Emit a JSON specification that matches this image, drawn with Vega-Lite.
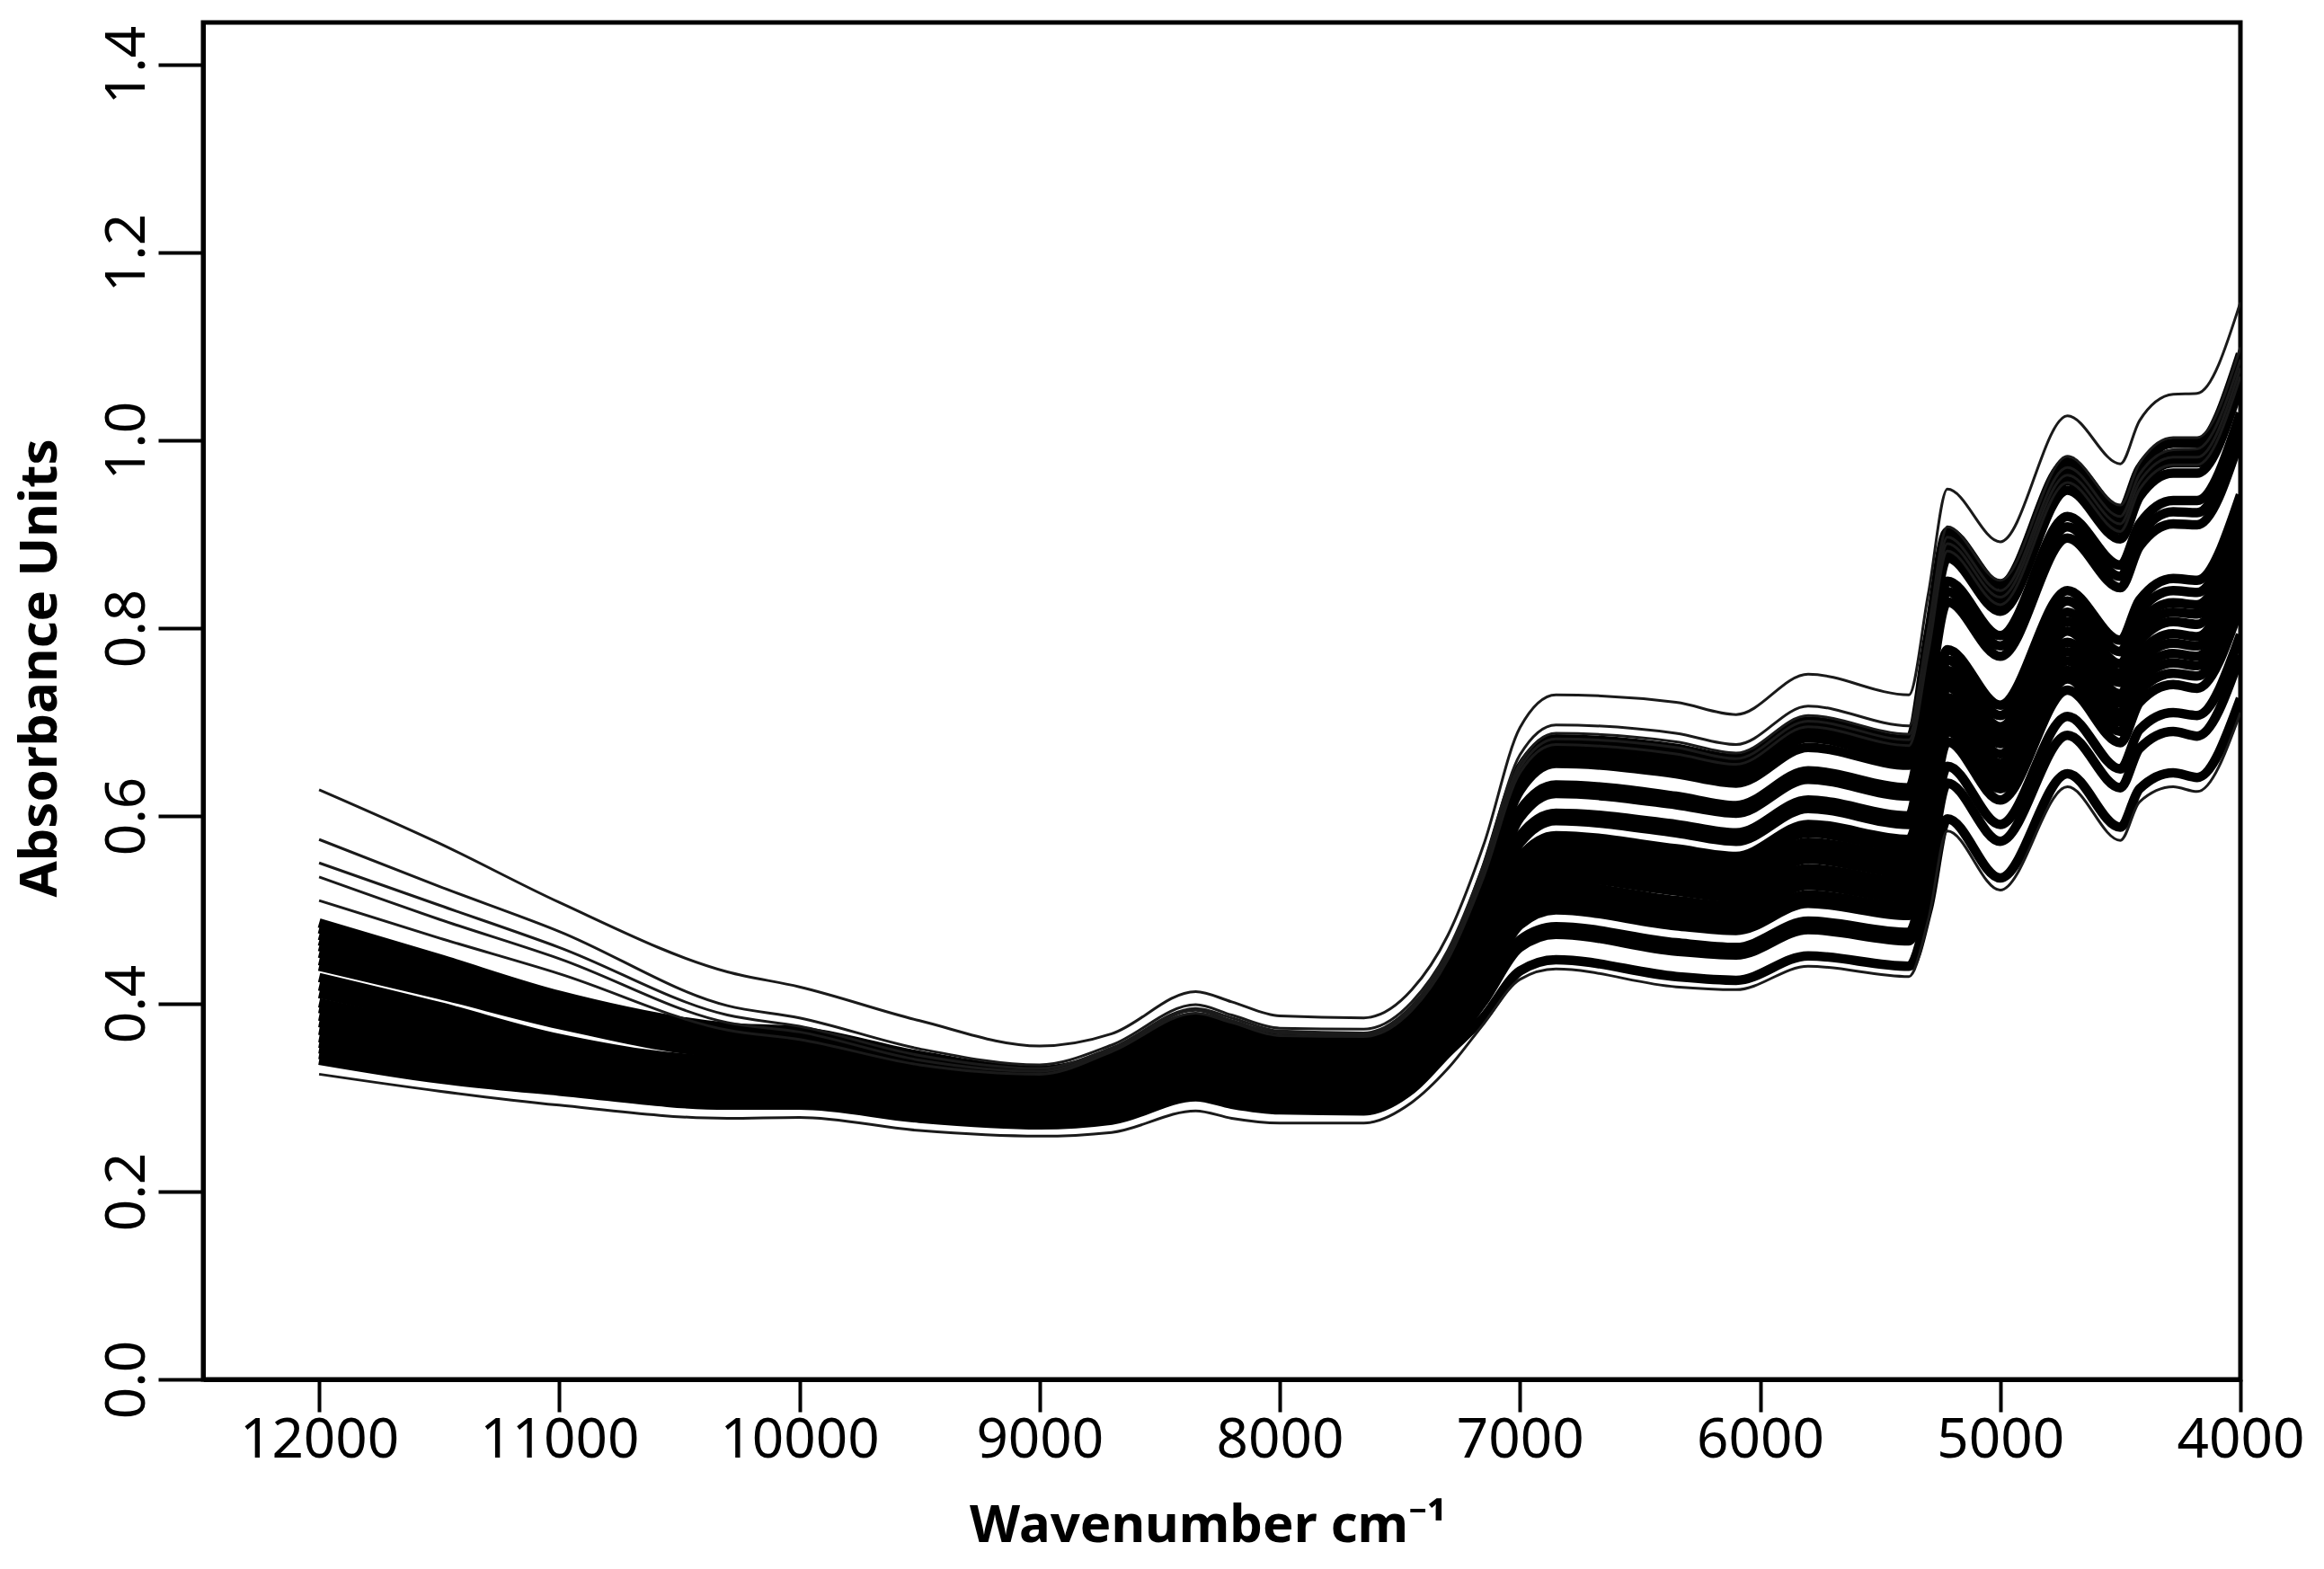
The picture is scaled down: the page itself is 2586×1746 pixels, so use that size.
{"$schema":"https://vega.github.io/schema/vega-lite/v6.json","width":2267,"height":1510,"autosize":{"type":"none"},"padding":{"left":226,"top":25,"right":93,"bottom":211},"background":"white","view":{"stroke":"black","strokeWidth":5,"fill":"white"},"config":{"axis":{"grid":false,"domainColor":"black","domainWidth":5,"tickColor":"black","tickWidth":4,"labelColor":"black","titleColor":"black","labelFont":"Noto Sans","titleFont":"Noto Sans","labelFontSize":62,"labelFontWeight":"normal","titleFontSize":58,"titleFontWeight":"bold"}},"data":{"values":[
{"w":12000,"T":0.628,"B":0.325,"F1":0.575,"F2":0.55,"F3":0.535,"F4":0.51,"s1":0.34,"s2":0.346,"s3":0.352,"s4":0.358,"s5":0.364,"s6":0.372,"s7":0.38,"s8":0.387,"s9":0.395,"s10":0.401,"s11":0.411,"s12":0.419,"s13":0.428,"s14":0.44,"s15":0.446,"s16":0.454,"s17":0.461,"s18":0.467,"s19":0.473,"s20":0.48,"s21":0.486},
{"w":11500,"T":0.571,"B":0.307,"F1":0.525,"F2":0.505,"F3":0.49,"F4":0.47,"s1":0.32,"s2":0.325,"s3":0.331,"s4":0.336,"s5":0.341,"s6":0.348,"s7":0.355,"s8":0.361,"s9":0.368,"s10":0.373,"s11":0.382,"s12":0.389,"s13":0.397,"s14":0.41,"s15":0.415,"s16":0.421,"s17":0.427,"s18":0.432,"s19":0.438,"s20":0.443,"s21":0.448},
{"w":11000,"T":0.508,"B":0.292,"F1":0.477,"F2":0.46,"F3":0.448,"F4":0.432,"s1":0.307,"s2":0.311,"s3":0.316,"s4":0.32,"s5":0.324,"s6":0.329,"s7":0.333,"s8":0.337,"s9":0.342,"s10":0.346,"s11":0.355,"s12":0.359,"s13":0.363,"s14":0.378,"s15":0.383,"s16":0.387,"s17":0.391,"s18":0.396,"s19":0.4,"s20":0.404,"s21":0.409},
{"w":10300,"T":0.434,"B":0.278,"F1":0.398,"F2":0.388,"F3":0.38,"F4":0.372,"s1":0.292,"s2":0.296,"s3":0.3,"s4":0.304,"s5":0.308,"s6":0.312,"s7":0.316,"s8":0.32,"s9":0.324,"s10":0.328,"s11":0.332,"s12":0.336,"s13":0.34,"s14":0.348,"s15":0.352,"s16":0.356,"s17":0.36,"s18":0.364,"s19":0.368,"s20":0.372,"s21":0.375},
{"w":10000,"T":0.418,"B":0.279,"F1":0.385,"F2":0.376,"F3":0.37,"F4":0.362,"s1":0.292,"s2":0.296,"s3":0.3,"s4":0.304,"s5":0.308,"s6":0.312,"s7":0.316,"s8":0.32,"s9":0.324,"s10":0.328,"s11":0.332,"s12":0.336,"s13":0.34,"s14":0.347,"s15":0.351,"s16":0.355,"s17":0.358,"s18":0.361,"s19":0.364,"s20":0.367,"s21":0.371},
{"w":9500,"T":0.382,"B":0.265,"F1":0.352,"F2":0.345,"F3":0.34,"F4":0.335,"s1":0.278,"s2":0.281,"s3":0.284,"s4":0.287,"s5":0.29,"s6":0.293,"s7":0.296,"s8":0.299,"s9":0.302,"s10":0.305,"s11":0.308,"s12":0.311,"s13":0.314,"s14":0.322,"s15":0.325,"s16":0.328,"s17":0.331,"s18":0.334,"s19":0.337,"s20":0.341,"s21":0.345},
{"w":9000,"T":0.355,"B":0.259,"F1":0.335,"F2":0.331,"F3":0.328,"F4":0.325,"s1":0.271,"s2":0.274,"s3":0.277,"s4":0.28,"s5":0.283,"s6":0.286,"s7":0.289,"s8":0.292,"s9":0.295,"s10":0.298,"s11":0.301,"s12":0.304,"s13":0.307,"s14":0.312,"s15":0.315,"s16":0.317,"s17":0.319,"s18":0.321,"s19":0.323,"s20":0.326,"s21":0.329},
{"w":8700,"T":0.368,"B":0.263,"F1":0.356,"F2":0.353,"F3":0.351,"F4":0.349,"s1":0.276,"s2":0.28,"s3":0.284,"s4":0.288,"s5":0.292,"s6":0.297,"s7":0.301,"s8":0.305,"s9":0.309,"s10":0.313,"s11":0.318,"s12":0.322,"s13":0.324,"s14":0.326,"s15":0.328,"s16":0.331,"s17":0.334,"s18":0.337,"s19":0.34,"s20":0.343,"s21":0.346},
{"w":8350,"T":0.413,"B":0.286,"F1":0.399,"F2":0.395,"F3":0.393,"F4":0.39,"s1":0.301,"s2":0.306,"s3":0.311,"s4":0.316,"s5":0.322,"s6":0.327,"s7":0.332,"s8":0.337,"s9":0.342,"s10":0.347,"s11":0.352,"s12":0.357,"s13":0.36,"s14":0.362,"s15":0.365,"s16":0.369,"s17":0.372,"s18":0.375,"s19":0.379,"s20":0.383,"s21":0.386},
{"w":8200,"T":0.402,"B":0.278,"F1":0.388,"F2":0.385,"F3":0.382,"F4":0.38,"s1":0.293,"s2":0.298,"s3":0.303,"s4":0.308,"s5":0.313,"s6":0.318,"s7":0.323,"s8":0.328,"s9":0.333,"s10":0.338,"s11":0.342,"s12":0.347,"s13":0.35,"s14":0.352,"s15":0.355,"s16":0.359,"s17":0.362,"s18":0.365,"s19":0.369,"s20":0.372,"s21":0.376},
{"w":8000,"T":0.387,"B":0.273,"F1":0.374,"F2":0.371,"F3":0.369,"F4":0.366,"s1":0.287,"s2":0.291,"s3":0.296,"s4":0.3,"s5":0.305,"s6":0.309,"s7":0.314,"s8":0.319,"s9":0.323,"s10":0.328,"s11":0.332,"s12":0.337,"s13":0.339,"s14":0.341,"s15":0.344,"s16":0.347,"s17":0.351,"s18":0.353,"s19":0.356,"s20":0.36,"s21":0.363},
{"w":7650,"T":0.385,"B":0.273,"F1":0.373,"F2":0.369,"F3":0.367,"F4":0.365,"s1":0.286,"s2":0.291,"s3":0.295,"s4":0.3,"s5":0.304,"s6":0.309,"s7":0.313,"s8":0.318,"s9":0.322,"s10":0.327,"s11":0.331,"s12":0.336,"s13":0.338,"s14":0.34,"s15":0.342,"s16":0.346,"s17":0.349,"s18":0.351,"s19":0.355,"s20":0.358,"s21":0.361},
{"w":7450,"T":0.415,"B":0.295,"F1":0.402,"F2":0.398,"F3":0.396,"F4":0.393,"s1":0.309,"s2":0.314,"s3":0.319,"s4":0.324,"s5":0.329,"s6":0.333,"s7":0.338,"s8":0.343,"s9":0.348,"s10":0.353,"s11":0.357,"s12":0.362,"s13":0.365,"s14":0.367,"s15":0.369,"s16":0.373,"s17":0.377,"s18":0.379,"s19":0.383,"s20":0.386,"s21":0.39},
{"w":7300,"T":0.473,"B":0.331,"F1":0.457,"F2":0.453,"F3":0.45,"F4":0.447,"s1":0.348,"s2":0.354,"s3":0.359,"s4":0.365,"s5":0.371,"s6":0.376,"s7":0.382,"s8":0.388,"s9":0.393,"s10":0.399,"s11":0.405,"s12":0.411,"s13":0.413,"s14":0.416,"s15":0.419,"s16":0.423,"s17":0.428,"s18":0.43,"s19":0.435,"s20":0.439,"s21":0.443},
{"w":7150,"T":0.57,"B":0.379,"F1":0.549,"F2":0.543,"F3":0.539,"F4":0.536,"s1":0.386,"s2":0.403,"s3":0.409,"s4":0.42,"s5":0.426,"s6":0.432,"s7":0.437,"s8":0.443,"s9":0.449,"s10":0.454,"s11":0.46,"s12":0.466,"s13":0.472,"s14":0.482,"s15":0.488,"s16":0.501,"s17":0.507,"s18":0.522,"s19":0.528,"s20":0.534,"s21":0.539},
{"w":7000,"T":0.694,"B":0.426,"F1":0.665,"F2":0.656,"F3":0.651,"F4":0.646,"s1":0.435,"s2":0.46,"s3":0.468,"s4":0.484,"s5":0.492,"s6":0.5,"s7":0.508,"s8":0.516,"s9":0.524,"s10":0.532,"s11":0.54,"s12":0.548,"s13":0.556,"s14":0.571,"s15":0.579,"s16":0.598,"s17":0.606,"s18":0.627,"s19":0.635,"s20":0.643,"s21":0.651},
{"w":6850,"T":0.729,"B":0.437,"F1":0.697,"F2":0.688,"F3":0.682,"F4":0.676,"s1":0.447,"s2":0.474,"s3":0.482,"s4":0.5,"s5":0.509,"s6":0.517,"s7":0.526,"s8":0.535,"s9":0.544,"s10":0.552,"s11":0.561,"s12":0.57,"s13":0.579,"s14":0.595,"s15":0.603,"s16":0.624,"s17":0.633,"s18":0.656,"s19":0.665,"s20":0.674,"s21":0.682},
{"w":6350,"T":0.721,"B":0.418,"F1":0.688,"F2":0.679,"F3":0.673,"F4":0.666,"s1":0.429,"s2":0.456,"s3":0.465,"s4":0.483,"s5":0.492,"s6":0.501,"s7":0.51,"s8":0.52,"s9":0.529,"s10":0.538,"s11":0.547,"s12":0.556,"s13":0.565,"s14":0.582,"s15":0.591,"s16":0.612,"s17":0.621,"s18":0.645,"s19":0.654,"s20":0.663,"s21":0.672},
{"w":6100,"T":0.708,"B":0.415,"F1":0.676,"F2":0.667,"F3":0.661,"F4":0.655,"s1":0.425,"s2":0.452,"s3":0.46,"s4":0.478,"s5":0.487,"s6":0.496,"s7":0.504,"s8":0.513,"s9":0.522,"s10":0.531,"s11":0.54,"s12":0.548,"s13":0.557,"s14":0.573,"s15":0.582,"s16":0.603,"s17":0.611,"s18":0.635,"s19":0.644,"s20":0.652,"s21":0.661},
{"w":5800,"T":0.751,"B":0.44,"F1":0.717,"F2":0.707,"F3":0.701,"F4":0.695,"s1":0.451,"s2":0.479,"s3":0.488,"s4":0.507,"s5":0.516,"s6":0.526,"s7":0.535,"s8":0.544,"s9":0.554,"s10":0.563,"s11":0.572,"s12":0.582,"s13":0.591,"s14":0.608,"s15":0.617,"s16":0.639,"s17":0.648,"s18":0.673,"s19":0.683,"s20":0.692,"s21":0.701},
{"w":5380,"T":0.729,"B":0.429,"F1":0.696,"F2":0.687,"F3":0.681,"F4":0.675,"s1":0.44,"s2":0.467,"s3":0.476,"s4":0.494,"s5":0.503,"s6":0.512,"s7":0.521,"s8":0.53,"s9":0.539,"s10":0.548,"s11":0.557,"s12":0.566,"s13":0.575,"s14":0.591,"s15":0.6,"s16":0.621,"s17":0.63,"s18":0.654,"s19":0.663,"s20":0.672,"s21":0.681},
{"w":5300,"T":0.836,"B":0.489,"F1":0.798,"F2":0.787,"F3":0.78,"F4":0.774,"s1":0.501,"s2":0.538,"s3":0.555,"s4":0.579,"s5":0.59,"s6":0.598,"s7":0.607,"s8":0.616,"s9":0.624,"s10":0.635,"s11":0.643,"s12":0.652,"s13":0.663,"s14":0.673,"s15":0.721,"s16":0.732,"s17":0.742,"s18":0.767,"s19":0.775,"s20":0.784,"s21":0.793},
{"w":5220,"T":0.948,"B":0.584,"F1":0.908,"F2":0.897,"F3":0.89,"F4":0.882,"s1":0.597,"s2":0.635,"s3":0.653,"s4":0.679,"s5":0.69,"s6":0.699,"s7":0.708,"s8":0.717,"s9":0.726,"s10":0.737,"s11":0.746,"s12":0.755,"s13":0.766,"s14":0.777,"s15":0.828,"s16":0.839,"s17":0.85,"s18":0.875,"s19":0.884,"s20":0.893,"s21":0.903},
{"w":5000,"T":0.892,"B":0.521,"F1":0.851,"F2":0.84,"F3":0.833,"F4":0.825,"s1":0.534,"s2":0.573,"s3":0.591,"s4":0.617,"s5":0.629,"s6":0.638,"s7":0.647,"s8":0.656,"s9":0.666,"s10":0.677,"s11":0.686,"s12":0.695,"s13":0.707,"s14":0.718,"s15":0.77,"s16":0.781,"s17":0.792,"s18":0.818,"s19":0.827,"s20":0.836,"s21":0.846},
{"w":4720,"T":1.026,"B":0.631,"F1":0.983,"F2":0.971,"F3":0.963,"F4":0.955,"s1":0.645,"s2":0.686,"s3":0.706,"s4":0.734,"s5":0.746,"s6":0.755,"s7":0.765,"s8":0.775,"s9":0.785,"s10":0.797,"s11":0.807,"s12":0.817,"s13":0.829,"s14":0.84,"s15":0.896,"s16":0.908,"s17":0.919,"s18":0.947,"s19":0.957,"s20":0.967,"s21":0.977},
{"w":4500,"T":0.975,"B":0.574,"F1":0.931,"F2":0.919,"F3":0.911,"F4":0.903,"s1":0.588,"s2":0.63,"s3":0.65,"s4":0.678,"s5":0.69,"s6":0.7,"s7":0.71,"s8":0.72,"s9":0.73,"s10":0.742,"s11":0.752,"s12":0.762,"s13":0.775,"s14":0.787,"s15":0.843,"s16":0.855,"s17":0.867,"s18":0.895,"s19":0.905,"s20":0.915,"s21":0.925},
{"w":4420,"T":1.021,"B":0.615,"F1":0.976,"F2":0.964,"F3":0.956,"F4":0.948,"s1":0.629,"s2":0.672,"s3":0.692,"s4":0.721,"s5":0.733,"s6":0.743,"s7":0.753,"s8":0.763,"s9":0.773,"s10":0.786,"s11":0.796,"s12":0.806,"s13":0.818,"s14":0.83,"s15":0.887,"s16":0.899,"s17":0.911,"s18":0.94,"s19":0.95,"s20":0.96,"s21":0.97},
{"w":4280,"T":1.049,"B":0.631,"F1":1.003,"F2":0.99,"F3":0.982,"F4":0.974,"s1":0.646,"s2":0.69,"s3":0.71,"s4":0.74,"s5":0.752,"s6":0.763,"s7":0.773,"s8":0.784,"s9":0.794,"s10":0.807,"s11":0.817,"s12":0.827,"s13":0.84,"s14":0.853,"s15":0.911,"s16":0.924,"s17":0.936,"s18":0.965,"s19":0.976,"s20":0.986,"s21":0.997},
{"w":4180,"T":1.05,"B":0.626,"F1":1.003,"F2":0.991,"F3":0.982,"F4":0.974,"s1":0.641,"s2":0.685,"s3":0.707,"s4":0.736,"s5":0.749,"s6":0.76,"s7":0.77,"s8":0.781,"s9":0.791,"s10":0.804,"s11":0.815,"s12":0.825,"s13":0.838,"s14":0.851,"s15":0.91,"s16":0.923,"s17":0.936,"s18":0.965,"s19":0.976,"s20":0.986,"s21":0.997},
{"w":4000,"T":1.147,"B":0.71,"F1":1.099,"F2":1.086,"F3":1.077,"F4":1.068,"s1":0.725,"s2":0.771,"s3":0.793,"s4":0.824,"s5":0.837,"s6":0.848,"s7":0.859,"s8":0.87,"s9":0.88,"s10":0.894,"s11":0.904,"s12":0.915,"s13":0.929,"s14":0.942,"s15":1.003,"s16":1.016,"s17":1.029,"s18":1.06,"s19":1.071,"s20":1.081,"s21":1.092}
]},
"encoding":{
"x":{"field":"w","type":"quantitative","scale":{"domain":[12483,4000],"nice":false,"zero":false},"axis":{"values":[12000,11000,10000,9000,8000,7000,6000,5000,4000],"format":"d","tickSize":36,"labelPadding":1,"labelOverlap":false,"labelFlush":false,"title":"Wavenumber cm⁻¹","titleX":1118,"titleY":180,"titleBaseline":"alphabetic","encode":{"ticks":{"update":{"opacity":{"signal":"datum.value==4000?0:1"}}},"labels":{"update":{"dy":{"signal":"datum.value==4000?-7:0"},"dx":{"signal":"datum.value==4000?8:0"}}}}}},
"y":{"field":"a","type":"quantitative","scale":{"domain":[0,1.445],"nice":false},"axis":{"values":[0,0.2,0.4,0.6,0.8,1,1.2,1.4],"format":".1f","tickSize":50,"labelAngle":270,"labelAlign":"center","labelBaseline":"alphabetic","labelPadding":16,"labelOverlap":false,"labelFlush":false,"title":"Absorbance Units","titleAngle":270,"titleX":-164,"titleY":718,"titleAlign":"center","titleBaseline":"alphabetic"}},
"detail":{"field":"s","type":"nominal"},
"order":{"field":"w","type":"quantitative"}
},
"layer":[
{"transform":[{"fold":["s1","s2","s3","s4","s5","s6","s7","s8","s9","s10","s11","s12","s13","s14","s15","s16","s17","s18","s19","s20","s21"],"as":["s","a"]}],"mark":{"type":"line","interpolate":"monotone","color":"black","strokeWidth":10.5,"clip":true}},
{"transform":[{"fold":["T","B","F1","F2","F3","F4"],"as":["s","a"]}],"mark":{"type":"line","interpolate":"monotone","color":"#1a1a1a","strokeWidth":3,"clip":true}}
]}
